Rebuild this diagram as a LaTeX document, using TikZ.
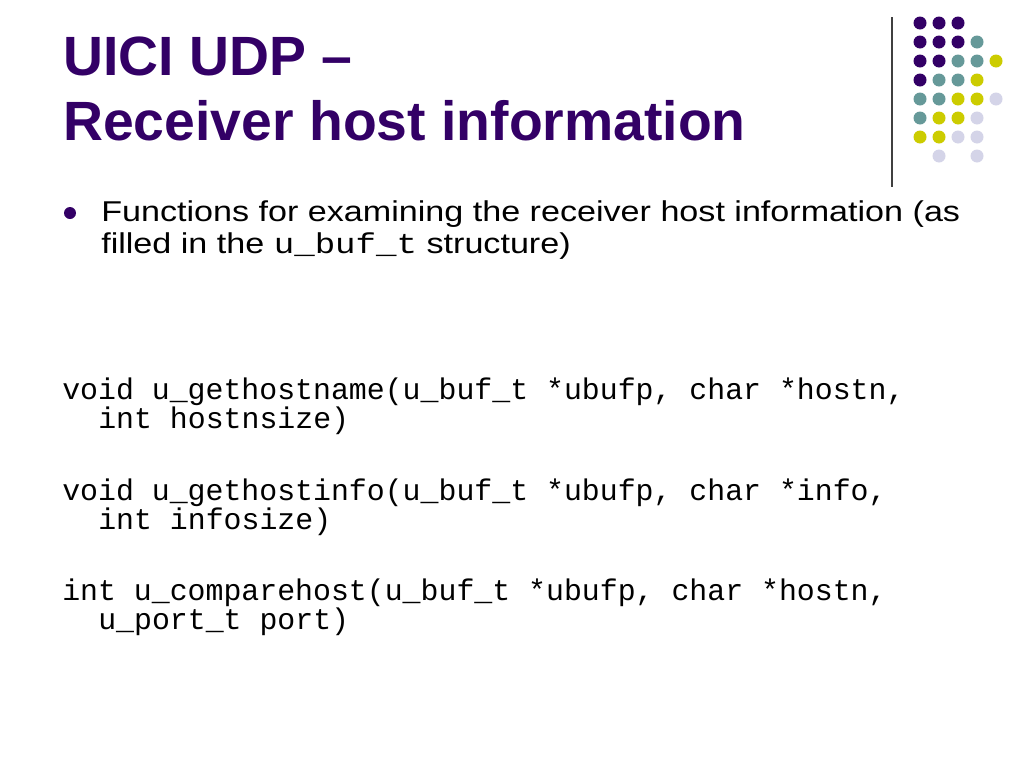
\documentclass[tikz,border=0pt]{standalone}
\usepackage{fontspec}
\setmainfont{Liberation Sans}
\setmonofont{Liberation Mono}
\newfontfamily\bulletsans[FakeStretch=1.19]{Liberation Sans}
\newfontfamily\bulletmono[FakeStretch=1.19]{Liberation Mono}
\definecolor{slidePurple}{HTML}{330066}
\definecolor{slideTeal}{HTML}{669999}
\definecolor{slideYellow}{HTML}{CCCC00}
\definecolor{slideLavender}{HTML}{D4D4E8}
\begin{document}
\begin{tikzpicture}
[x=0.75pt,y=-0.75pt,%
  titleDecorate/.style={anchor=base west,inner sep=0pt,text=slidePurple,font=\fontsize{41.5}{50}\selectfont\bfseries},%
  textDecorate/.style={anchor=base west,inner sep=0pt,font=\fontsize{21.5}{26}\selectfont\bulletsans},%
  codeDecorate/.style={anchor=base west,inner sep=0pt,font=\fontsize{22.4}{27}\selectfont\ttfamily},%
  dotDecorate/.style={shape=circle,inner sep=0pt,minimum size=9.75pt}]
\useasboundingbox[fill=white] (0,0) rectangle (1024,768);
%% title
\node (title1) at (63,75) [titleDecorate] {UICI UDP --};
\node (title2) at (63,140) [titleDecorate] {Receiver host information};
%% corner dots
\foreach \col/\row/\colour in {
  0/0/slidePurple, 1/0/slidePurple, 2/0/slidePurple,
  0/1/slidePurple, 1/1/slidePurple, 2/1/slidePurple, 3/1/slideTeal,
  0/2/slidePurple, 1/2/slidePurple, 2/2/slideTeal, 3/2/slideTeal, 4/2/slideYellow,
  0/3/slidePurple, 1/3/slideTeal, 2/3/slideTeal, 3/3/slideYellow,
  0/4/slideTeal, 1/4/slideTeal, 2/4/slideYellow, 3/4/slideYellow, 4/4/slideLavender,
  0/5/slideTeal, 1/5/slideYellow, 2/5/slideYellow, 3/5/slideLavender,
  0/6/slideYellow, 1/6/slideYellow, 2/6/slideLavender, 3/6/slideLavender,
  1/7/slideLavender, 3/7/slideLavender}
{
  \node (dot\col\row) at (920+19*\col,23+19*\row) [dotDecorate,fill=\colour] {};
}
\coordinate (ruleTop) at (892,17);
\coordinate (ruleBottom) at (892,187);
\draw[line width=1.1pt,black!75] (ruleTop) -- (ruleBottom);
%% bullet
\node (bullet) at (70,213) [shape=circle,inner sep=0pt,minimum size=9pt,fill=slidePurple] {};
\node (intro1) at (101,221) [textDecorate] {Functions for examining the receiver host information (as};
\node (intro2) at (101,253) [textDecorate] {filled in the {\bulletmono u\_buf\_t} structure)};
%% prototypes
\foreach \name/\y/\first/\second in {
  hostname/399/{void u\_gethostname(u\_buf\_t *ubufp, char *hostn,}/{int hostnsize)},
  hostinfo/500/{void u\_gethostinfo(u\_buf\_t *ubufp, char *info,}/{int infosize)},
  comparehost/600/{int u\_comparehost(u\_buf\_t *ubufp, char *hostn,}/{u\_port\_t port)}}
{
  \node (\name) at (62,\y) [codeDecorate] {\first};
  \node (\name more) at (98,\y+29) [codeDecorate] {\second};
}
\end{tikzpicture}
\end{document}
